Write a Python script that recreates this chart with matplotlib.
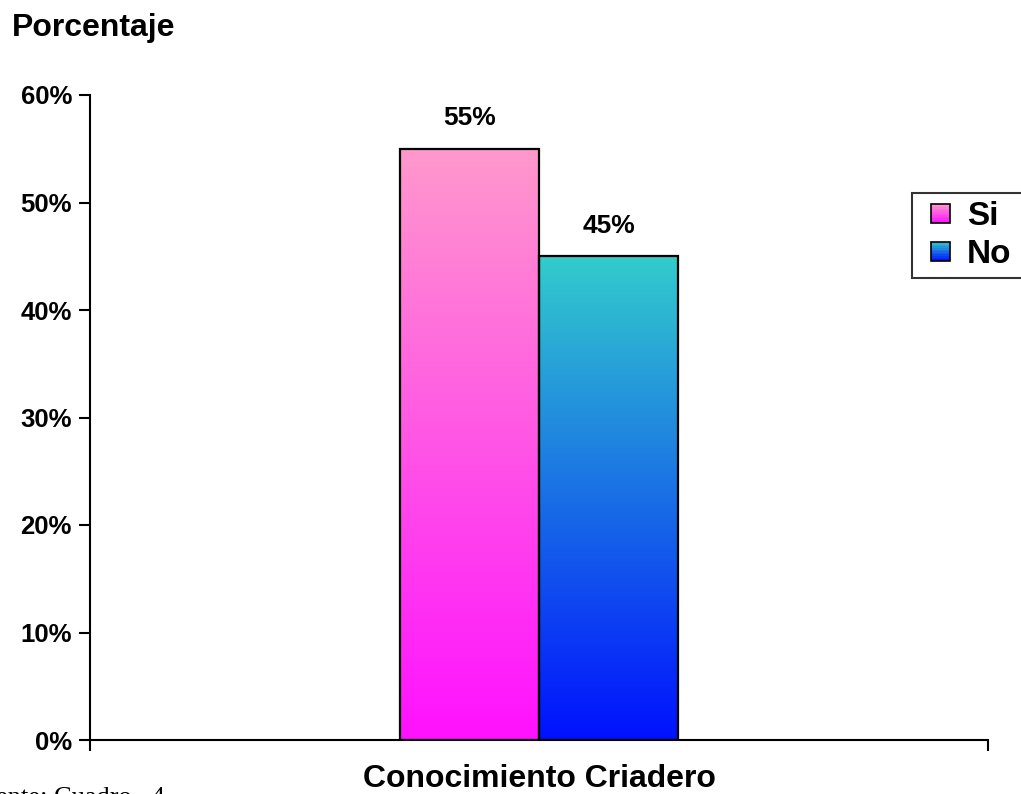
import numpy as np
import matplotlib
matplotlib.use("Agg")
import matplotlib.pyplot as plt
import matplotlib.patches as mpatches
from matplotlib.colors import LinearSegmentedColormap
from matplotlib.legend_handler import HandlerBase

# data
categories = ["Si", "No"]
values = [0.55, 0.45]
value_labels = ["55%", "45%"]
yticks = [0.0, 0.1, 0.2, 0.3, 0.4, 0.5, 0.6]
ytick_labels = ["0%", "10%", "20%", "30%", "40%", "50%", "60%"]

# gradients (top colour, bottom colour)
grads = [("#ff99cc", "#ff11ff"), ("#33cccc", "#0011ff")]

plt.rcParams['font.family'] = ['Liberation Sans', 'DejaVu Sans']

fig = plt.figure(figsize=(10.21, 7.94), dpi=100)
ax = fig.add_axes([90/1021, 1-740/794, 898/1021, 645/794])

width = 0.155
xs = [-width/2, width/2]
bars = ax.bar(xs, values, width=width, facecolor='none', edgecolor='black',
              linewidth=1.6, zorder=3)

for b, (top, bot) in zip(bars, grads):
    cmap = LinearSegmentedColormap.from_list("g", [bot, top])
    x0, y0 = b.get_x(), b.get_y()
    w, h = b.get_width(), b.get_height()
    grad = np.linspace(0, 1, 256).reshape(-1, 1)
    im = ax.imshow(grad, cmap=cmap, origin='lower', aspect='auto',
                   extent=[x0, x0 + w, y0, y0 + h], zorder=2)
    im.set_clip_path(b)

for x, v, lab in zip(xs, values, value_labels):
    ax.text(x, v + 0.017, lab, ha='center', va='bottom', fontsize=19,
            fontweight='bold')

ax.set_xlim(-0.5, 0.5)
ax.set_ylim(0, 0.6)
ax.set_yticks(yticks)
ax.set_yticklabels(ytick_labels, fontsize=18.5, fontweight='bold')
ax.set_xticks([-0.5, 0.5])
ax.set_xticklabels([])
ax.tick_params(axis='both', direction='out', length=8, width=1.5)
ax.tick_params(axis='y', pad=5)
for s in ['top', 'right']:
    ax.spines[s].set_visible(False)
for s in ['left', 'bottom']:
    ax.spines[s].set_linewidth(1.5)


class GradHandler(HandlerBase):
    # small square, right-aligned in the handle box, with a vertical gradient
    def __init__(self, top, bot):
        super().__init__()
        self.top, self.bot = top, bot

    def create_artists(self, legend, orig_handle, xdescent, ydescent,
                       width, height, fontsize, trans):
        cmap = LinearSegmentedColormap.from_list("g", [self.bot, self.top])
        side = height
        x0 = -xdescent + width - side
        y0 = -ydescent
        n = 12
        arts = []
        for i in range(n):
            r = mpatches.Rectangle((x0, y0 + i*side/n), side, side/n,
                                   facecolor=cmap((i + 0.5)/n),
                                   edgecolor='none', transform=trans)
            arts.append(r)
        arts.append(mpatches.Rectangle((x0, y0), side, side,
                                       facecolor='none', edgecolor='black',
                                       linewidth=1.2, transform=trans))
        return arts


handles = [mpatches.Patch(label=c) for c in categories]
hmap = {h: GradHandler(t, b) for h, (t, b) in zip(handles, grads)}
# legend box runs past the right edge of the figure, as in the original
leg = fig.legend(handles=handles, handler_map=hmap, loc='upper left',
                 bbox_to_anchor=(912/1021, 0, 0.12, 1-193/794),
                 mode='expand', borderaxespad=0,
                 prop={'weight': 'bold', 'size': 24}, frameon=True,
                 fancybox=False, edgecolor='black', handlelength=0.9,
                 handleheight=0.5, handletextpad=0.5, borderpad=0.25,
                 labelspacing=0.2)
leg.get_frame().set_linewidth(1.5)

fig.text(12/1021, 1-28/794, "Porcentaje", fontsize=23, fontweight='bold',
         ha='left', va='center')
fig.text(539/1021, 1-779/794, "Conocimiento Criadero", fontsize=23,
         fontweight='bold', ha='center', va='center')
fig.text(165/1021, 1-787/794, "Fuente: Cuadro   4", fontsize=19,
         family=['Liberation Serif', 'DejaVu Serif'], ha='right', va='top')

fig.savefig("out.png", dpi=100)
